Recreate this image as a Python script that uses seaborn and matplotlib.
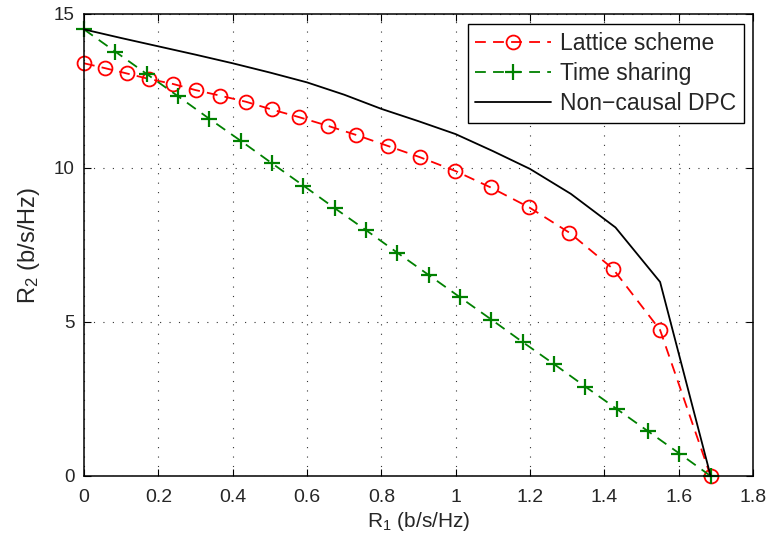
import matplotlib
matplotlib.use("Agg")
import matplotlib.pyplot as plt
import numpy as np
import pandas as pd
import seaborn as sns

# ---- data ----
lattice_r1 = [0.000, 0.057, 0.115, 0.175, 0.239, 0.300, 0.366, 0.436, 0.505, 0.579,
              0.656, 0.733, 0.819, 0.904, 0.998, 1.094, 1.198, 1.306, 1.423, 1.550, 1.686]
lattice_r2 = [13.40, 13.24, 13.07, 12.89, 12.73, 12.53, 12.35, 12.15, 11.90, 11.65,
              11.37, 11.07, 10.71, 10.35, 9.91, 9.37, 8.72, 7.90, 6.73, 4.74, 0.00]

ts_r1 = [0.000, 0.084, 0.169, 0.253, 0.337, 0.422, 0.506, 0.590, 0.674, 0.759,
         0.843, 0.927, 1.012, 1.096, 1.180, 1.265, 1.349, 1.433, 1.518, 1.602, 1.686]
ts_r2 = [14.50, 13.78, 13.05, 12.33, 11.60, 10.88, 10.15, 9.43, 8.70, 7.98,
         7.25, 6.53, 5.80, 5.08, 4.35, 3.63, 2.90, 2.18, 1.45, 0.73, 0.00]

dpc_r1 = [0.0, 0.1, 0.2, 0.3, 0.4, 0.5, 0.6, 0.7, 0.8, 0.9, 1.0, 1.1, 1.2,
          1.31, 1.43, 1.55, 1.686]
dpc_r2 = [14.50, 14.22, 13.95, 13.68, 13.40, 13.10, 12.78, 12.38, 11.92, 11.52,
          11.10, 10.55, 9.97, 9.16, 8.07, 6.30, 0.00]

series_names = ["Lattice scheme", "Time sharing", "Non\u2212causal DPC"]
x_ticks = [0, 0.2, 0.4, 0.6, 0.8, 1.0, 1.2, 1.4, 1.6, 1.8]
x_tick_labels = ["0", "0.2", "0.4", "0.6", "0.8", "1", "1.2", "1.4", "1.6", "1.8"]
y_ticks = [0, 5, 10, 15]
y_tick_labels = ["0", "5", "10", "15"]
x_label = r"$\mathregular{R_1}$ (b/s/Hz)"
y_label = r"$\mathregular{R_2}$ (b/s/Hz)"

# ---- style ----
sns.set_theme(style="white")
plt.rcParams["font.family"] = ["Liberation Sans", "DejaVu Sans"]
plt.rcParams["mathtext.fontset"] = "custom"
plt.rcParams["mathtext.rm"] = "Liberation Sans"

fig = plt.figure(figsize=(7.68, 5.40), dpi=100)
ax = fig.add_axes([84 / 768, 64 / 540, (753 - 84) / 768, (476 - 14) / 540])

df_lat = pd.DataFrame({"R1": lattice_r1, "R2": lattice_r2})
df_ts = pd.DataFrame({"R1": ts_r1, "R2": ts_r2})
df_dpc = pd.DataFrame({"R1": dpc_r1, "R2": dpc_r2})

red = "#ff0000"
green = "#008000"

sns.lineplot(data=df_lat, x="R1", y="R2", ax=ax, sort=False, estimator=None,
             color=red, lw=1.3, marker="o", markersize=10,
             markerfacecolor="none", markeredgecolor=red, markeredgewidth=1.3,
             label=series_names[0])
sns.lineplot(data=df_ts, x="R1", y="R2", ax=ax, sort=False, estimator=None,
             color=green, lw=1.3, marker="+", markersize=11,
             markeredgecolor=green, markeredgewidth=1.6,
             label=series_names[1])
sns.lineplot(data=df_dpc, x="R1", y="R2", ax=ax, sort=False, estimator=None,
             color="black", lw=1.3, label=series_names[2])

ax.lines[0].set_linestyle((0, (6, 4)))
ax.lines[1].set_linestyle((0, (6, 4)))
for ln in ax.lines:
    ln.set_clip_on(False)

ax.set_xlim(0, 1.8)
ax.set_ylim(0, 15)
ax.set_xticks(x_ticks)
ax.set_xticklabels(x_tick_labels)
ax.set_yticks(y_ticks)
ax.set_yticklabels(y_tick_labels)
ax.tick_params(axis="both", which="major", direction="in", length=5, width=0.8,
               color="black", top=True, right=True, bottom=True, left=True)
ax.tick_params(axis="x", labelsize=14, pad=9)
ax.tick_params(axis="y", labelsize=13.5, pad=7)
ax.set_xlabel(x_label, fontsize=15, labelpad=3)
ax.set_ylabel(y_label, fontsize=17, labelpad=8)

ax.grid(True, linestyle=(0, (1, 7.5)), color="0.2", linewidth=0.8)
ax.set_axisbelow(True)
for sp in ax.spines.values():
    sp.set_color("black")
    sp.set_linewidth(1.1)
    sp.set_visible(True)

leg = ax.legend(loc="upper right", bbox_to_anchor=(0.9865, 0.978), fontsize=16.5,
                frameon=True, fancybox=False, edgecolor="black", framealpha=1,
                handlelength=3.3, handletextpad=0.4, labelspacing=0.32,
                borderpad=0.33, borderaxespad=0.0, numpoints=1)
leg.get_frame().set_linewidth(1.0)

fig.savefig("out.png", dpi=100)
